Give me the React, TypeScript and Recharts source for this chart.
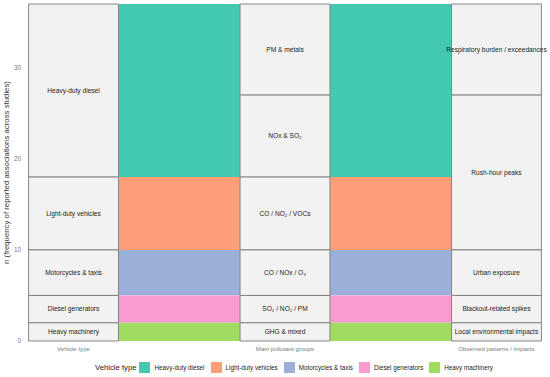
import React from "react";
import { ComposedChart, XAxis, YAxis, ReferenceArea, Line, Legend } from "recharts";

// ---- data ----
const axisNames = ["Vehicle type", "Main pollutant groups", "Observed patterns / impacts"];

const vehicleTypes = ["Heavy-duty diesel", "Light-duty vehicles", "Motorcycles & taxis", "Diesel generators", "Heavy machinery"];
const vehicleCounts = [19, 8, 5, 3, 2];
const vehicleColors = ["#43c9b0", "#fc9f78", "#9cafd8", "#fa9bd0", "#9fdc60"];

const pollutantGroups = ["PM & metals", "NOx & SO₂", "CO / NO₂ / VOCs", "CO / NOx / O₃", "SO₂ / NO₂ / PM", "GHG & mixed"];
const pollutantCounts = [10, 9, 8, 5, 3, 2];

const impacts = ["Respiratory burden / exceedances", "Rush-hour peaks", "Urban exposure", "Blackout-related spikes", "Local environmental impacts"];
const impactCounts = [10, 17, 5, 3, 2];

// flows (vehicle index, n), stacked top to bottom
const flowVehicle = [0, 0, 1, 2, 3, 4];
const flowCounts = [10, 9, 8, 5, 3, 2];

const yTicks = [0, 10, 20, 30];

// ---- layout ----
const STRATUM_W = 0.425;
const total = vehicleCounts.reduce((a, b) => a + b, 0);

function stack(counts: number[]) {
  let top = total;
  return counts.map((c) => {
    const y2 = top;
    const y1 = top - c;
    top = y1;
    return { y1, y2 };
  });
}

const strataCols = [
  { labels: vehicleTypes, ranges: stack(vehicleCounts) },
  { labels: pollutantGroups, ranges: stack(pollutantCounts) },
  { labels: impacts, ranges: stack(impactCounts) },
];
const flowRanges = stack(flowCounts);

const chartData = axisNames.map((_, i) => ({ x: i + 1, v: 0 }));

const FONT = "'Liberation Sans', Arial, Helvetica, sans-serif";

function LegendContent() {
  return (
    <div style={{ display: "flex", alignItems: "center", height: 20, paddingLeft: 95, fontFamily: FONT }}>
      <span style={{ fontSize: 7.7, color: "#1a1a1a", marginRight: 3 }}>Vehicle type</span>
      {vehicleTypes.map((v, i) => (
        <span key={v} style={{ display: "flex", alignItems: "center", marginRight: 6 }}>
          <span style={{ width: 11, height: 11, background: vehicleColors[i], display: "inline-block", marginRight: 4 }} />
          <span style={{ fontSize: 6.3, color: "#1a1a1a" }}>{v}</span>
        </span>
      ))}
    </div>
  );
}

function YLabel(props: any) {
  const vb = props.viewBox || {};
  const cy = (vb.y ?? 4) + (vb.height ?? 337) / 2;
  const cx = 6;
  return (
    <text
      x={cx}
      y={cy}
      transform={`rotate(-90, ${cx}, ${cy})`}
      textAnchor="middle"
      dominantBaseline="central"
      fontSize={7.8}
      fill="#333"
      fontFamily={FONT}
    >
      n (frequency of reported associations across studies)
    </text>
  );
}

export default function App() {
  return (
    <div style={{ position: "fixed", left: 0, top: 0, width: 550, height: 377, background: "#fff" }}>
      <ComposedChart
        width={550}
        height={377}
        data={chartData}
        margin={{ top: 4, right: 7, left: 0, bottom: 2 }}
        style={{ fontFamily: FONT }}
      >
        <XAxis
          dataKey="x"
          type="number"
          domain={[0.78, 3.22]}
          ticks={[1, 2, 3]}
          tickFormatter={(v: number) => axisNames[v - 1]}
          axisLine={false}
          tickLine={false}
          tickSize={0}
          tickMargin={6}
          height={14}
          tick={{ fontSize: 6.1, fill: "#7a7a7a" }}
          allowDataOverflow
        />
        <YAxis
          type="number"
          domain={[0, total]}
          ticks={yTicks}
          axisLine={false}
          tickLine={false}
          tickSize={0}
          tickMargin={6}
          width={27}
          tick={{ fontSize: 6.3, fill: "#7a7a7a" }}
          allowDataOverflow
          label={<YLabel />}
        />
        {/* flows */}
        {[0, 1].map((gap) =>
          flowRanges.map((r, j) => (
            <ReferenceArea
              key={`f${gap}-${j}`}
              x1={gap + 1 + STRATUM_W / 2}
              x2={gap + 2 - STRATUM_W / 2}
              y1={r.y1}
              y2={r.y2}
              fill={vehicleColors[flowVehicle[j]]}
              fillOpacity={1}
              stroke="none"
              ifOverflow="visible"
            />
          ))
        )}
        {/* strata */}
        {strataCols.map((col, i) =>
          col.ranges.map((r, j) => (
            <ReferenceArea
              key={`s${i}-${j}`}
              x1={i + 1 - STRATUM_W / 2}
              x2={i + 1 + STRATUM_W / 2}
              y1={r.y1}
              y2={r.y2}
              fill="#f2f2f2"
              fillOpacity={1}
              stroke="#858585"
              strokeWidth={1}
              ifOverflow="visible"
              label={{ value: col.labels[j], position: "center", fontSize: 6.6, fill: "#222" }}
            />
          ))
        )}
        <Line dataKey="v" stroke="none" dot={false} activeDot={false} isAnimationActive={false} legendType="none" />
        <Legend
          verticalAlign="bottom"
          content={<LegendContent />}
          wrapperStyle={{ position: "absolute", left: 0, top: 357, width: 550, height: 20 }}
        />
      </ComposedChart>
    </div>
  );
}
